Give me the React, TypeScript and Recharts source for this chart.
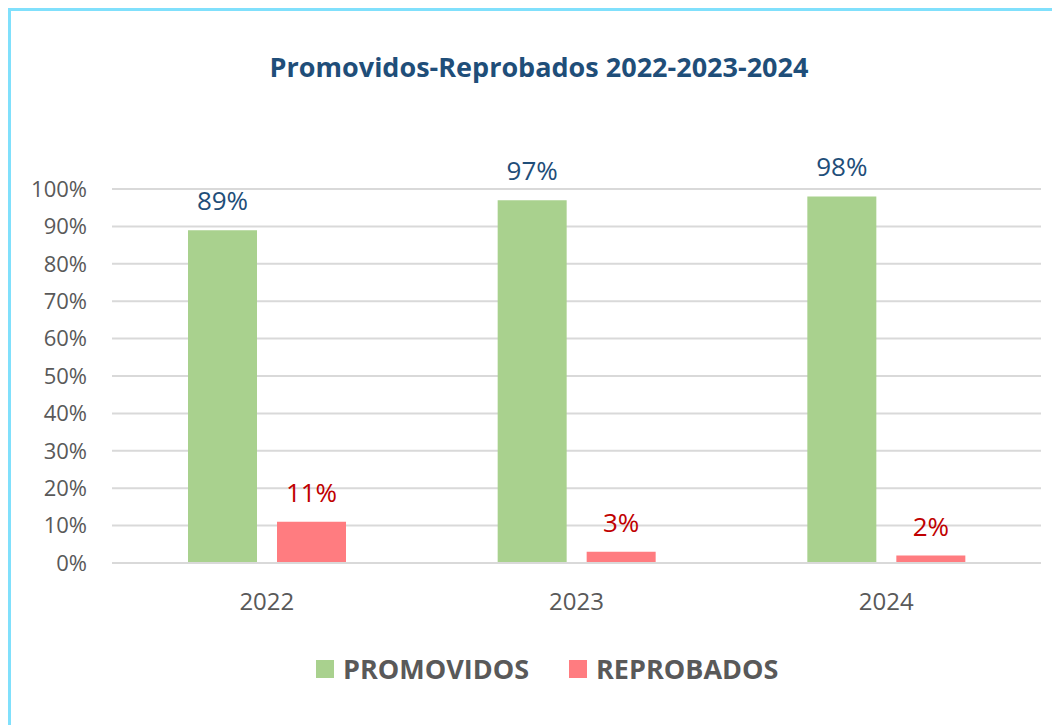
import React from 'react';
import { BarChart, Bar, XAxis, YAxis, CartesianGrid, LabelList } from 'recharts';

const years = ['2022', '2023', '2024'];
const promovidos = [89, 97, 98];
const reprobados = [11, 3, 2];
const yTicks = [0, 10, 20, 30, 40, 50, 60, 70, 80, 90, 100];

const data = years.map((year, i) => ({
    year,
    promovidos: promovidos[i],
    reprobados: reprobados[i],
}));

const FONT = '"Open Sans", "Liberation Sans", sans-serif';
const GREEN = '#a9d18e';
const RED = '#ff7c80';

const legendItems = [
    { name: 'PROMOVIDOS', color: GREEN },
    { name: 'REPROBADOS', color: RED },
];

export default function App() {
    return (
        <div
            style={{
                position: 'relative',
                width: 1052,
                height: 717,
                boxSizing: 'border-box',
                borderTop: '3px solid #80e0fc',
                borderLeft: '3px solid #80e0fc',
                background: '#fff',
            }}
        >
            <div
                style={{
                    position: 'absolute',
                    left: -3,
                    top: 38,
                    width: 1052,
                    textAlign: 'center',
                    paddingLeft: 10,
                    boxSizing: 'border-box',
                    fontFamily: FONT,
                    fontWeight: 700,
                    fontSize: 27,
                    lineHeight: '36px',
                    color: '#1f4e79',
                }}
            >
                Promovidos-Reprobados 2022-2023-2024
            </div>
            <div style={{ position: 'absolute', left: -3, top: -3 }}>
                <BarChart
                    width={1052}
                    height={717}
                    data={data}
                    margin={{ top: 181, right: 19, left: 0, bottom: 92 }}
                    barGap={20}
                    barSize={69}
                >
                    <CartesianGrid vertical={false} stroke="#d9d9d9" strokeWidth={2} />
                    <XAxis
                        dataKey="year"
                        axisLine={{ stroke: '#d9d9d9', strokeWidth: 2 }}
                        tickLine={false}
                        tickSize={0}
                        tickMargin={30}
                        height={70}
                        tick={{ fill: '#595959', fontSize: 24, fontFamily: FONT }}
                    />
                    <YAxis
                        domain={[0, 100]}
                        ticks={yTicks}
                        interval={0}
                        width={104}
                        axisLine={false}
                        tickLine={false}
                        tickSize={0}
                        tickMargin={25}
                        tickFormatter={(v: number) => `${v}%`}
                        tick={{ fill: '#595959', fontSize: 22, fontFamily: FONT }}
                    />
                    <Bar dataKey="promovidos" fill={GREEN} isAnimationActive={false}>
                        <LabelList
                            dataKey="promovidos"
                            position="top"
                            offset={20}
                            formatter={(v: number) => `${v}%`}
                            style={{ fill: '#1f4e79', fontSize: 26, fontFamily: FONT }}
                        />
                    </Bar>
                    <Bar dataKey="reprobados" fill={RED} isAnimationActive={false}>
                        <LabelList
                            dataKey="reprobados"
                            position="top"
                            offset={20}
                            formatter={(v: number) => `${v}%`}
                            style={{ fill: '#c00000', fontSize: 26, fontFamily: FONT }}
                        />
                    </Bar>
                </BarChart>
            </div>
            <div
                style={{
                    position: 'absolute',
                    left: 305,
                    top: 640,
                    display: 'flex',
                    gap: 40,
                    fontFamily: FONT,
                }}
            >
                {legendItems.map((item) => (
                    <div key={item.name} style={{ display: 'flex', alignItems: 'center' }}>
                        <span style={{ width: 18, height: 18, background: item.color, display: 'inline-block', marginRight: 9 }} />
                        <span style={{ fontSize: 27, lineHeight: '36px', fontWeight: 700, color: '#595959' }}>{item.name}</span>
                    </div>
                ))}
            </div>
        </div>
    );
}
